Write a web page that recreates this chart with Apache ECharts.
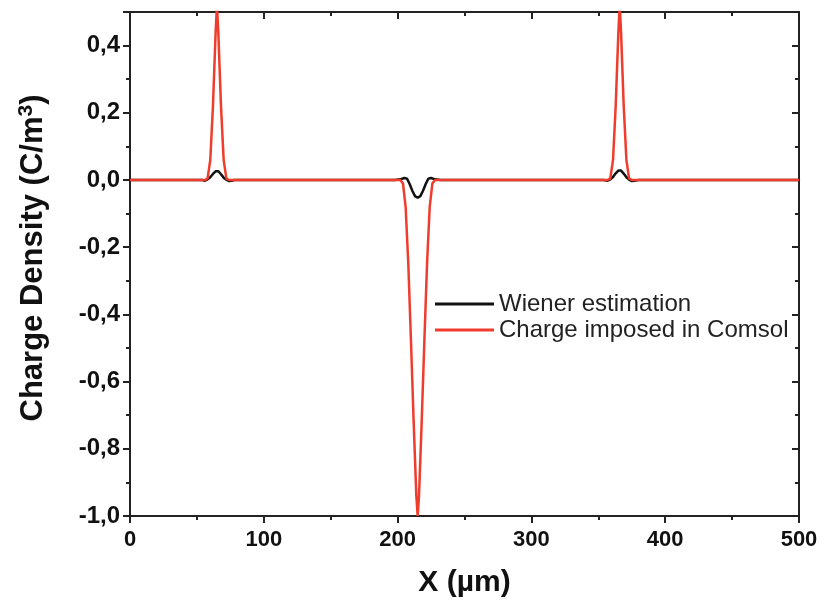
<!DOCTYPE html>
<html><head><meta charset="utf-8">
<script src="https://cdn.jsdelivr.net/npm/echarts@6/dist/echarts.min.js"></script>
<style>html,body{margin:0;padding:0;background:#fff}#c{width:824px;height:609px}</style>
</head><body><div id="c"></div>
<script>
// X positions (µm) and values (C/m^3)
const wienerX = [0, 54, 56, 58, 60, 62, 64, 65, 66, 68, 70, 72, 74, 76, 78,
  198, 202, 205, 207, 209, 211, 213, 215, 217, 219, 221, 223, 225, 228, 232,
  354, 357, 359, 361, 363, 365, 366, 367, 369, 371, 373, 375, 377, 380, 500];
const wienerY = [0, 0, -0.002, 0.002, 0.008, 0.018, 0.026, 0.028, 0.026, 0.017, 0.007, 0.001, -0.003, -0.002, 0,
  0, 0.002, 0.006, 0.004, -0.012, -0.032, -0.048, -0.053, -0.048, -0.032, -0.012, 0.004, 0.006, 0.002, 0,
  0, -0.002, 0.002, 0.009, 0.02, 0.028, 0.03, 0.028, 0.019, 0.008, 0.001, -0.003, -0.002, 0, 0];

const comsolX = [0, 56, 58, 60, 62, 64, 65, 66, 68, 70, 72, 74,
  202, 204, 206, 208, 210, 212, 214, 215, 216, 218, 220, 222, 224, 226, 228,
  357, 359, 361, 363, 365, 366, 367, 369, 371, 373, 375, 500];
const comsolY = [0, 0, 0.005, 0.06, 0.22, 0.44, 0.52, 0.44, 0.22, 0.06, 0.005, 0,
  0, -0.01, -0.08, -0.25, -0.48, -0.72, -0.94, -1.0, -0.94, -0.72, -0.48, -0.25, -0.08, -0.01, 0,
  0, 0.005, 0.06, 0.22, 0.44, 0.52, 0.44, 0.22, 0.06, 0.005, 0, 0];

const xTicks = { min: 0, max: 500, interval: 100 };
const yTicks = { min: -1.0, max: 0.5, interval: 0.2 };

const chart = echarts.init(document.getElementById('c'));
const axisLine = { show: true, onZero: false, lineStyle: { color: '#222', width: 2 } };
const fmtY = v => Math.abs(v - 0.5) < 1e-9 ? '' : v.toFixed(1).replace('.', ',');
const FONT = 'Liberation Sans, Arial, sans-serif';
chart.setOption({
  animation: false,
  backgroundColor: '#fff',
  grid: { left: 130, right: 25, top: 12, bottom: 93 },
  legend: {
    orient: 'vertical', left: 430, top: 286, itemGap: 0,
    itemWidth: 59, itemHeight: 3, icon: 'rect',
    textStyle: { fontFamily: FONT, fontSize: 24, color: '#222', padding: [0, 0, 0, 0], lineHeight: 26 },
    data: ['Wiener estimation', 'Charge imposed in Comsol']
  },
  xAxis: [{
    type: 'value', min: xTicks.min, max: xTicks.max, interval: xTicks.interval,
    name: 'X (µm)', nameLocation: 'middle', nameGap: 52,
    nameTextStyle: { fontFamily: FONT, fontWeight: 'bold', fontSize: 30, color: '#111' },
    axisLine: axisLine,
    axisTick: { show: true, inside: false, length: 7, lineStyle: { color: '#222', width: 2 } },
    minorTick: { show: true, splitNumber: 2, length: 4, lineStyle: { color: '#222', width: 2 } },
    splitLine: { show: false },
    axisLabel: { margin: 13, fontFamily: FONT, fontWeight: 'bold', fontSize: 22, color: '#111' }
  }, {
    type: 'value', position: 'top', min: xTicks.min, max: xTicks.max, interval: xTicks.interval,
    axisLine: axisLine,
    axisTick: { show: true, inside: true, length: 7, lineStyle: { color: '#222', width: 2 } },
    minorTick: { show: true, splitNumber: 2, length: 4, lineStyle: { color: '#222', width: 2 } },
    splitLine: { show: false }, axisLabel: { show: false }
  }],
  yAxis: [{
    type: 'value', min: yTicks.min, max: yTicks.max, interval: yTicks.interval,
    name: 'Charge Density (C/m{sup|3})', nameLocation: 'middle', nameGap: 79,
    nameTextStyle: {
      fontFamily: FONT, fontWeight: 'bold', fontSize: 31, color: '#111', padding: [0, 0, 0, 12],
      rich: { sup: { fontFamily: FONT, fontWeight: 'bold', fontSize: 21, color: '#111', padding: [0, 0, 14, 0] } }
    },
    axisLine: axisLine,
    axisTick: { show: true, inside: false, length: 7, lineStyle: { color: '#222', width: 2 } },
    minorTick: { show: true, splitNumber: 2, length: 4, lineStyle: { color: '#222', width: 2 } },
    splitLine: { show: false },
    axisLabel: { margin: 10, formatter: fmtY, fontFamily: FONT, fontWeight: 'bold', fontSize: 24, color: '#111' }
  }, {
    type: 'value', position: 'right', min: yTicks.min, max: yTicks.max, interval: yTicks.interval,
    axisLine: axisLine,
    axisTick: { show: true, inside: true, length: 7, lineStyle: { color: '#222', width: 2 } },
    minorTick: { show: true, splitNumber: 2, length: 4, lineStyle: { color: '#222', width: 2 } },
    splitLine: { show: false }, axisLabel: { show: false }
  }],
  series: [{
    name: 'Wiener estimation', type: 'line', symbol: 'none', smooth: false,
    xAxisIndex: 0, yAxisIndex: 0,
    data: wienerX.map((x, i) => [x, wienerY[i]]),
    lineStyle: { color: '#111', width: 2.5 }, itemStyle: { color: '#111' }
  }, {
    name: 'Charge imposed in Comsol', type: 'line', symbol: 'none', smooth: false,
    xAxisIndex: 0, yAxisIndex: 0,
    data: comsolX.map((x, i) => [x, comsolY[i]]),
    lineStyle: { color: '#f03c2c', width: 2.5 }, itemStyle: { color: '#f03c2c' }
  }]
});
</script></body></html>
